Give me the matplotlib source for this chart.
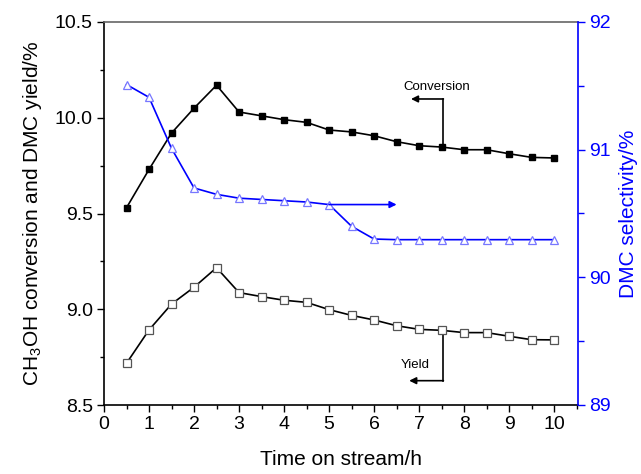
import matplotlib
matplotlib.use("Agg")
import matplotlib.pyplot as plt
from matplotlib.ticker import MultipleLocator

plt.rcParams['font.family'] = ['Liberation Sans', 'DejaVu Sans']
plt.rcParams['mathtext.fontset'] = 'custom'
plt.rcParams['mathtext.rm'] = 'Liberation Sans'
plt.rcParams['mathtext.it'] = 'Liberation Sans'

time_h = [0.5, 1, 1.5, 2, 2.5, 3, 3.5, 4, 4.5, 5, 5.5, 6, 6.5, 7, 7.5, 8, 8.5, 9, 9.5, 10]
conversion = [9.53, 9.73, 9.92, 10.05, 10.17, 10.03, 10.01, 9.99, 9.976, 9.936, 9.926, 9.906,
              9.875, 9.854, 9.847, 9.833, 9.833, 9.812, 9.793, 9.79]
yield_ = [8.718, 8.892, 9.027, 9.115, 9.217, 9.087, 9.066, 9.047, 9.036, 8.998, 8.968, 8.944,
          8.914, 8.895, 8.890, 8.878, 8.878, 8.859, 8.841, 8.84]
selectivity = [91.51, 91.41, 91.01, 90.70, 90.65, 90.62, 90.61, 90.60, 90.59, 90.57, 90.40, 90.30,
               90.295, 90.295, 90.295, 90.295, 90.295, 90.295, 90.295, 90.295]

fig = plt.figure(figsize=(6.41, 4.74), dpi=100)
ax = fig.add_axes([104/641, 1-405/474, (578-104)/641, (405-22)/474])
ax2 = ax.twinx()

ax.plot(time_h, conversion, '-', color='black', lw=1.2, marker='s', ms=4.6,
        mfc='black', mec='black', zorder=3)
ax.plot(time_h, yield_, '-', color='black', lw=1.2, marker='s', ms=5.2,
        mfc='white', mec='#555555', mew=0.9, zorder=3)
ax2.plot(time_h, selectivity, '-', color='#0000ff', lw=1.2, marker='^', ms=6.2,
         mfc='white', mec='#7777ff', mew=0.9, zorder=3)

ax.set_xlim(0, 10.53)
ax.set_ylim(8.5, 10.5)
ax2.set_ylim(89, 92)

ax.xaxis.set_major_locator(MultipleLocator(1))
ax.xaxis.set_minor_locator(MultipleLocator(0.5))
ax.yaxis.set_major_locator(MultipleLocator(0.5))
ax.yaxis.set_minor_locator(MultipleLocator(0.25))
ax2.yaxis.set_major_locator(MultipleLocator(1))
ax2.yaxis.set_minor_locator(MultipleLocator(0.5))
ax.yaxis.set_major_formatter(matplotlib.ticker.FormatStrFormatter('%.1f'))

ax.tick_params(axis='both', which='major', direction='out', length=5, width=1, labelsize=14, pad=3)
ax.tick_params(axis='both', which='minor', direction='out', length=3, width=1)
ax.tick_params(axis='x', top=False, which='both')
ax2.tick_params(axis='y', which='major', direction='out', length=5, width=1, labelsize=14,
                colors='#0000ff', pad=3)
ax2.tick_params(axis='y', which='minor', direction='out', length=4, width=1, colors='#0000ff')

for sp in ['left', 'bottom']:
    ax.spines[sp].set_color('black')
    ax.spines[sp].set_linewidth(1.2)
ax.spines['top'].set_color('#666666')
ax.spines['top'].set_linewidth(1.2)
ax2.spines['top'].set_visible(False)
ax2.spines['left'].set_visible(False)
ax2.spines['bottom'].set_visible(False)
ax2.spines['right'].set_color('#0000ff')
ax2.spines['right'].set_linewidth(1.2)
ax.spines['right'].set_visible(False)

ax.set_xlabel('Time on stream/h', fontsize=15, labelpad=12)
ax.set_ylabel('CH$_3$OH conversion and DMC yield/%', fontsize=15, labelpad=8)
ax2.set_ylabel('DMC selectivity/%', fontsize=15, color='#0000ff', labelpad=6)

# Conversion annotation
ax.plot([7.53, 7.53], [9.847, 10.098], color='black', lw=1.2, zorder=2)
ax.annotate('', xy=(6.82, 10.098), xytext=(7.54, 10.098),
            arrowprops=dict(arrowstyle='-|>', color='black', lw=1.2, mutation_scale=10,
                            shrinkA=0, shrinkB=0))
ax.text(7.4, 10.16, 'Conversion', fontsize=9.5, ha='center', va='center')

# Yield annotation
ax.plot([7.53, 7.53], [8.89, 8.627], color='black', lw=1.2, zorder=2)
ax.annotate('', xy=(6.78, 8.627), xytext=(7.54, 8.627),
            arrowprops=dict(arrowstyle='-|>', color='black', lw=1.2, mutation_scale=10,
                            shrinkA=0, shrinkB=0))
ax.text(6.91, 8.71, 'Yield', fontsize=9.5, ha='center', va='center')

# Selectivity annotation
ax2.annotate('', xy=(6.5, 90.57), xytext=(5.0, 90.57),
             arrowprops=dict(arrowstyle='-|>', color='#0000ff', lw=1.2, mutation_scale=10,
                             shrinkA=0, shrinkB=0))

fig.savefig('out.png', dpi=100)
